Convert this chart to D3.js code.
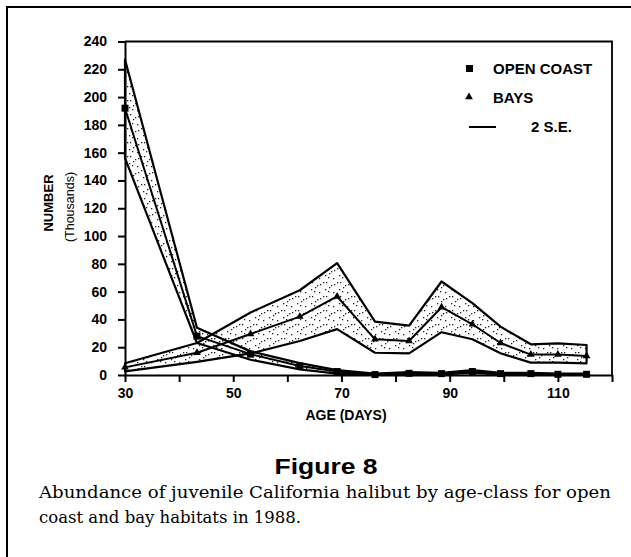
<!DOCTYPE html>
<html>
<head>
<meta charset="utf-8">
<script src="https://cdn.jsdelivr.net/npm/d3@7/dist/d3.min.js"></script>
<style>
  body { margin: 0; background: #fff; }
  svg { display: block; }
  .axis text { font-family: "Liberation Sans", Arial, sans-serif; font-weight: bold; font-size: 14px; fill: #000; }
  .axis path, .axis line { stroke: #000; stroke-width: 2px; }
</style>
</head>
<body>
<div id="chart"></div>
<script>
// age classes (days) and abundance in thousands
const ages = [30, 43.3, 53.2, 62.3, 69.2, 76.2, 82.5, 88.5, 94.2, 99.4, 105, 110, 115.3];
const coastMean  = [192, 28, 15, 6.5, 2.5, 0.3, 1.2, 1, 2.5, 1, 1, 0.5, 0.5];
const coastUpper = [227, 34, 17, 8.5, 3.5, 1, 2, 1.5, 3.5, 1.5, 1.5, 1, 1];
const coastLower = [156, 23, 11, 4, 1, 0, 0.5, 0.5, 1.5, 0.5, 0.5, 0, 0];
const bayMean  = [5.5, 16, 29.5, 42, 56.5, 25.7, 24.5, 48.8, 36.5, 23, 14.7, 14.7, 13.7];
const bayUpper = [8.5, 23, 45, 61, 80.5, 38.4, 35.5, 67.3, 51.7, 34.8, 22.1, 22.8, 21.6];
const bayLower = [2.6, 9.5, 15.5, 24.5, 33, 16, 15.6, 30.8, 25.7, 15.6, 8.9, 8.9, 8.4];

const xTicks = [30, 40, 50, 60, 70, 80, 90, 100, 110, 120];
const xLabels = [30, 50, 70, 90, 110];
const yTicks = [0, 20, 40, 60, 80, 100, 120, 140, 160, 180, 200, 220, 240];

const width = 631, height = 557;
const plot = {left: 125, right: 612, top: 41.5, bottom: 375};

const svg = d3.select("#chart").append("svg")
  .attr("width", width)
  .attr("height", height);

// outer figure border (top + left only)
svg.append("path")
  .attr("d", `M7,557 L7,7 L631,7`)
  .attr("fill", "none")
  .attr("stroke", "#000")
  .attr("stroke-width", 2);

const x = d3.scaleLinear().domain([30, 120]).range([plot.left, plot.right]);
const y = d3.scaleLinear().domain([0, 240]).range([plot.bottom, plot.top]);

// stipple fill, sparse and uneven like the print
const defs = svg.append("defs");
const pat = defs.append("pattern")
  .attr("id", "stipple")
  .attr("patternUnits", "userSpaceOnUse")
  .attr("width", 14).attr("height", 14);
[[1, 2], [4, 2], [9, 5], [12, 4], [3, 9], [6, 11], [11, 12], [7, 7]].forEach(p => {
  pat.append("rect").attr("x", p[0]).attr("y", p[1])
    .attr("width", 1.3).attr("height", 1.3).attr("fill", "#222");
});

const coast = ages.map((a, i) => ({age: a, mean: coastMean[i], hi: coastUpper[i], lo: coastLower[i]}));
const bays = ages.map((a, i) => ({age: a, mean: bayMean[i], hi: bayUpper[i], lo: bayLower[i]}));

const area = d3.area()
  .x(d => x(d.age))
  .y0(d => y(d.lo))
  .y1(d => y(d.hi));

const line = key => d3.line().x(d => x(d.age)).y(d => y(d[key]));

[bays, coast].forEach(series => {
  svg.append("path")
    .datum(series)
    .attr("d", area)
    .attr("fill", "url(#stipple)")
    .attr("stroke", "#000")
    .attr("stroke-width", 2.2)
    .attr("stroke-linejoin", "round");
  svg.append("path")
    .datum(series)
    .attr("d", line("mean"))
    .attr("fill", "none")
    .attr("stroke", "#000")
    .attr("stroke-width", 2)
    .attr("stroke-linejoin", "round");
});

// markers
svg.selectAll(".sq")
  .data(coast)
  .enter().append("rect")
  .attr("class", "sq")
  .attr("x", d => x(d.age) - 3.5)
  .attr("y", d => y(d.mean) - 3.5)
  .attr("width", 7).attr("height", 7)
  .attr("fill", "#000");

const tri = d3.symbol().type(d3.symbolTriangle).size(26);
svg.selectAll(".tri")
  .data(bays)
  .enter().append("path")
  .attr("class", "tri")
  .attr("d", tri)
  .attr("transform", d => `translate(${x(d.age)},${y(d.mean)})`)
  .attr("fill", "#000");

// frame top + right
svg.append("path")
  .attr("d", `M${plot.left},${plot.top} L${plot.right},${plot.top} L${plot.right},${plot.bottom}`)
  .attr("fill", "none")
  .attr("stroke", "#000")
  .attr("stroke-width", 1.8);

// axes
svg.append("g")
  .attr("class", "axis")
  .attr("transform", `translate(${plot.left},0)`)
  .call(d3.axisLeft(y).tickValues(yTicks).tickSize(7).tickSizeOuter(0).tickPadding(11));

svg.append("g")
  .attr("class", "axis")
  .attr("transform", `translate(0,${plot.bottom})`)
  .call(d3.axisBottom(x).tickValues(xTicks).tickSize(7).tickSizeOuter(0).tickPadding(6)
    .tickFormat(d => xLabels.includes(d) ? d : ""));

// axis titles
svg.append("text")
  .attr("transform", "translate(53,203) rotate(-90)")
  .attr("text-anchor", "middle")
  .style("font", "bold 13px 'Liberation Sans', Arial, sans-serif")
  .text("NUMBER");
svg.append("text")
  .attr("transform", "translate(74,207) rotate(-90)")
  .attr("text-anchor", "middle")
  .style("font", "12.5px 'Liberation Sans', Arial, sans-serif")
  .text("(Thousands)");
svg.append("text")
  .attr("x", 346).attr("y", 420)
  .attr("text-anchor", "middle")
  .style("font", "bold 14px 'Liberation Sans', Arial, sans-serif")
  .text("AGE (DAYS)");

// legend
const legend = svg.append("g")
  .style("font", "bold 15px 'Liberation Sans', Arial, sans-serif");
legend.append("rect").attr("x", 466).attr("y", 65).attr("width", 7).attr("height", 7).attr("fill", "#000");
legend.append("text").attr("x", 493).attr("y", 74).text("OPEN COAST");
legend.append("path").attr("d", tri).attr("transform", "translate(469,97)").attr("fill", "#000");
legend.append("text").attr("x", 493).attr("y", 103).text("BAYS");
legend.append("line").attr("x1", 469).attr("x2", 496).attr("y1", 127).attr("y2", 127)
  .attr("stroke", "#000").attr("stroke-width", 2);
legend.append("text").attr("x", 531).attr("y", 132).text("2 S.E.");

// caption
svg.append("text")
  .attr("x", 326).attr("y", 474)
  .attr("text-anchor", "middle")
  .attr("textLength", 103).attr("lengthAdjust", "spacingAndGlyphs")
  .style("font", "bold 22px 'Liberation Sans', Arial, sans-serif")
  .text("Figure 8");
svg.append("text")
  .attr("x", 39).attr("y", 498)
  .attr("textLength", 572).attr("lengthAdjust", "spacingAndGlyphs")
  .style("font", "16.5px 'DejaVu Serif', serif")
  .text("Abundance of juvenile California halibut by age-class for open");
svg.append("text")
  .attr("x", 39).attr("y", 523)
  .style("font", "16.5px 'DejaVu Serif', serif")
  .text("coast and bay habitats in 1988.");
</script>
</body>
</html>
